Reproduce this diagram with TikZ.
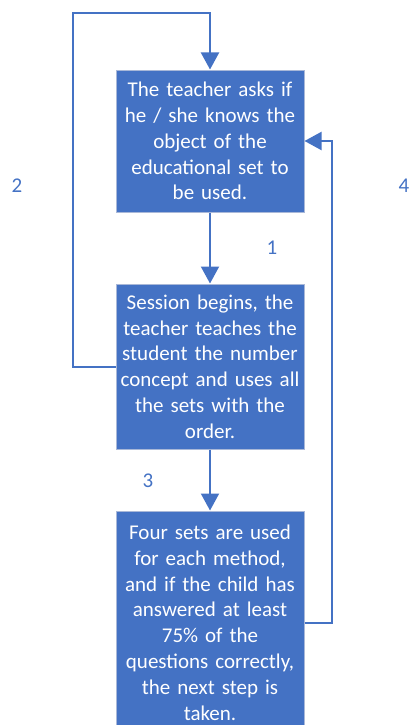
\documentclass[tikz,border=0pt]{standalone}
\usepackage{fontspec}
\setmainfont{Carlito}
\usetikzlibrary{arrows.meta}
\definecolor{stepblue}{HTML}{4472C4}
\definecolor{stepedge}{HTML}{A9B8D8}
\tikzset{
  stepbox/.style={rectangle,fill=stepblue,draw=stepedge,line width=1pt,
    text=white,text width=182pt,inner sep=3pt,minimum width=188pt,
    align=center,font=\fontsize{21}{25.8}\selectfont},
  flow/.style={draw=stepblue,line width=2pt,-{Triangle[width=18pt,length=17pt]}},
  steplabel/.style={text=stepblue,font=\fontsize{21}{25}\selectfont,inner sep=0pt}
}
\begin{document}
\begin{tikzpicture}[x=1pt,y=-1pt]
\useasboundingbox (0,0) rectangle (409,725);
\node[stepbox,minimum height=142pt] (ask) at (210,141)
  {The teacher asks if\\ he / she knows the\\ object of the\\ educational set to\\ be used.};
\node[stepbox,minimum height=165pt] (session) at (210,366.5)
  {Session begins, the\\ teacher teaches the\\ student the number\\ concept and uses all\\ the sets with the\\ order.};
\node[stepbox,minimum height=223pt] (sets) at (210,622.5)
  {Four sets are used\\ for each method,\\ and if the child has\\ answered at least\\ 75\% of the\\ questions correctly,\\ the next step is\\ taken.};

\coordinate (lt) at (73,13);
\coordinate (rt) at (332,141);

\draw[flow] (ask.south) -- (session.north);
\draw[flow] (session.south) -- (sets.north);
\draw[flow] (session.west) -| (lt) -| (ask.north);
\draw[flow] (sets.east) -| (rt) -- (ask.east);

\node[steplabel] (l1) at (272,248) {1};
\node[steplabel] (l2) at (17,186) {2};
\node[steplabel] (l3) at (148,481) {3};
\node[steplabel] (l4) at (404,186) {4};
\end{tikzpicture}
\end{document}
